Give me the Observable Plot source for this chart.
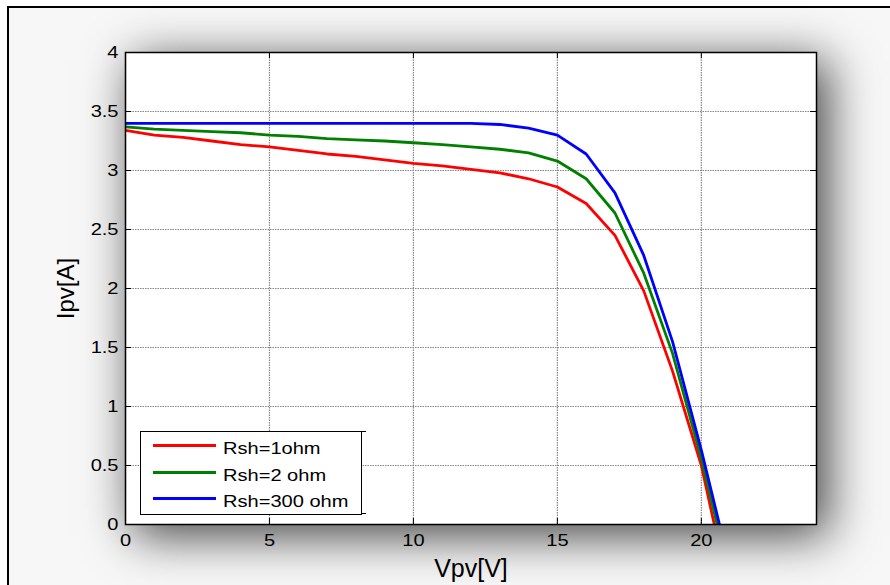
<!DOCTYPE html>
<html><head><meta charset="utf-8">
<script src="https://cdn.jsdelivr.net/npm/d3@7"></script>
<script src="https://cdn.jsdelivr.net/npm/@observablehq/plot@0.6"></script>
<style>
html,body{margin:0;padding:0;background:#fff;}
#wrap{position:relative;width:890px;height:585px;overflow:hidden;font-family:"Liberation Sans",Arial,sans-serif;}
#fig{position:absolute;left:7px;top:6px;width:930px;height:640px;border:2px solid #000;background:#f7f7f7;}
#shadow{position:absolute;left:125px;top:52px;width:691px;height:472px;background:#fff;box-shadow:10px 10px 45px 2px rgba(0,0,0,0.72);}
#chart{position:absolute;left:0;top:0;}
#legend{position:absolute;left:140px;top:431px;width:222px;height:84px;border:1px solid #000;background:#fff;box-sizing:border-box;}
.sw{position:absolute;left:12px;width:63px;height:3px;}
.lt{position:absolute;left:82px;font-size:17px;line-height:17px;white-space:nowrap;color:#000;transform:scaleX(1.18);transform-origin:0 50%;}
.br{position:absolute;left:220px;width:5px;height:1px;background:#000;}
</style></head>
<body><div id="wrap"><div id="fig"></div><div id="shadow"></div><div id="chart"></div><div id="legend"></div></div>
<script>
// ---- data ----
const seriesNames = ["Rsh=1ohm", "Rsh=2 ohm", "Rsh=300 ohm"];
const seriesColors = ["#ff0000", "#008000", "#0000ff"];

const vRed   = [0,1,2,3,4,5,6,7,8,9,10,11,12,13,14,15,16,17,18,19,20,20.45];
const iRed   = [3.34,3.30,3.28,3.25,3.22,3.20,3.17,3.14,3.12,3.09,3.06,3.04,3.01,2.98,2.93,2.86,2.72,2.45,1.98,1.30,0.50,0];
const vGreen = [0,1,2,3,4,5,6,7,8,9,10,11,12,13,14,15,16,17,18,19,20,20.55];
const iGreen = [3.37,3.35,3.34,3.33,3.32,3.30,3.29,3.27,3.26,3.25,3.235,3.22,3.20,3.18,3.15,3.08,2.93,2.64,2.13,1.45,0.56,0];
const vBlue  = [0,1,2,3,4,5,6,7,8,9,10,11,12,13,14,15,16,17,18,19,20,20.63];
const iBlue  = [3.40,3.40,3.40,3.40,3.40,3.40,3.40,3.40,3.40,3.40,3.40,3.40,3.40,3.39,3.36,3.30,3.14,2.81,2.28,1.55,0.63,0];

const xTicks = [0,5,10,15,20];
const yTicks = [0,0.5,1,1.5,2,2.5,3,3.5,4];
const xLabel = "Vpv[V]";
const yLabel = "Ipv[A]";

// ---- build rows ----
const rows = [];
[[vRed,iRed],[vGreen,iGreen],[vBlue,iBlue]].forEach(([vs,is],k)=>{
  vs.forEach((v,j)=>rows.push({v, i: is[j], s: seriesNames[k]}));
});

const gridStyle = {stroke:"#858585", strokeWidth:1.2, strokeDasharray:"1.5,1"};
const W = 890, H = 585, mL = 125, mR = 74, mT = 52, mB = 61;
const fw = W - mL - mR, fh = H - mT - mB, tk = 6;

const chart = Plot.plot({
  width: W, height: H,
  marginLeft: mL, marginRight: mR, marginTop: mT, marginBottom: mB,
  x: {domain: [0, 24]},
  y: {domain: [0, 4]},
  color: {domain: seriesNames, range: seriesColors},
  style: {background: "transparent", fontFamily: "Liberation Sans, Arial, sans-serif", fontSize: "17px", color: "#000", overflow: "visible"},
  marks: [
    Plot.ruleX(xTicks, gridStyle),
    Plot.ruleY(yTicks, gridStyle),
    Plot.line(rows, {x: "v", y: "i", z: "s", stroke: "s", strokeWidth: 2.8, clip: true}),
    Plot.frame({stroke: "#000", strokeWidth: 1.5}),
    Plot.ruleX(xTicks, {stroke: "#000", insetTop: fh - tk}),
    Plot.ruleX(xTicks, {stroke: "#000", insetBottom: fh - tk}),
    Plot.ruleY(yTicks, {stroke: "#000", insetRight: fw - tk}),
    Plot.ruleY(yTicks, {stroke: "#000", insetLeft: fw - tk}),
    Plot.axisX({ticks: xTicks, tickSize: 0, tickPadding: 9, label: null, tickFormat: d => String(d)}),
    Plot.axisY({ticks: yTicks, tickSize: 0, tickPadding: 7, label: null, tickFormat: d => String(d)}),
    Plot.text([xLabel], {text: d => d, frameAnchor: "bottom", lineAnchor: "middle", textAnchor: "middle", dy: 44, fontSize: 25, fill: "#000"}),
    Plot.text([yLabel], {text: d => d, frameAnchor: "left", lineAnchor: "middle", textAnchor: "middle", dx: -59, rotate: -90, fontSize: 24, fill: "#000"})
  ]
});
document.getElementById("chart").appendChild(chart);

// horizontally widen tick labels to match the reference's stretched glyphs
function stretch(sel, s) {
  chart.querySelectorAll(sel).forEach(el => {
    const tr = el.getAttribute("transform") || "";
    const xa = el.getAttribute("x");
    if (xa != null && !isNaN(+xa) && +xa !== 0) el.setAttribute("x", +xa / s);
    el.setAttribute("transform", `${tr} scale(${s},1)`);
  });
}
stretch('g[aria-label="x-axis tick label"] text, g[aria-label="y-axis tick label"] text', 1.18);

// ---- legend ----
const lg = document.getElementById("legend");
seriesNames.forEach((name, k) => {
  const sw = document.createElement("div");
  sw.className = "sw";
  sw.style.top = (12 + 26.7 * k) + "px";
  sw.style.background = seriesColors[k];
  lg.appendChild(sw);
  const t = document.createElement("div");
  t.className = "lt";
  t.style.top = (8 + 26.7 * k) + "px";
  t.textContent = name;
  lg.appendChild(t);
});
["-1px","81px"].forEach(tp => {
  const b = document.createElement("div");
  b.className = "br"; b.style.top = tp; lg.appendChild(b);
});
</script></body></html>
